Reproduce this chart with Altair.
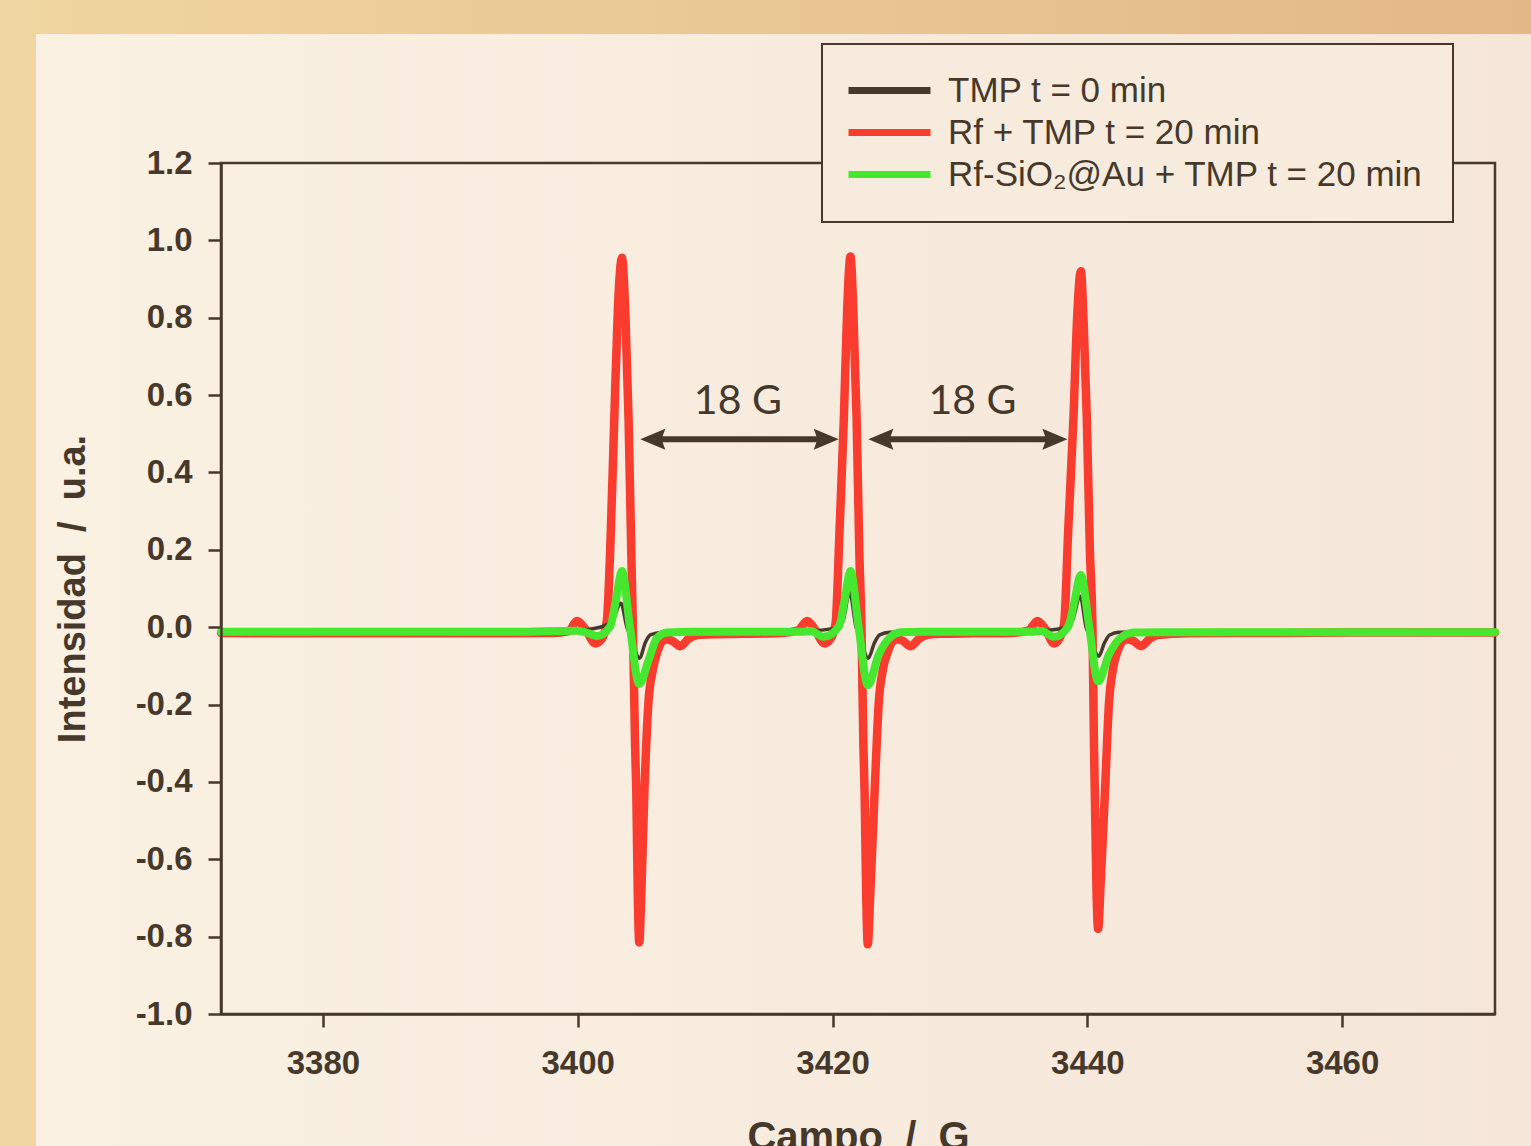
import altair as alt
import pandas as pd

# ---------------- data ----------------
S_BLACK = "TMP t = 0 min"
S_RED = "Rf + TMP t = 20 min"
S_GREEN = "Rf-SiO₂@Au + TMP t = 20 min"

red_x = [3372, 3380, 3390, 3398, 3399.3,
         3399.94, 3400.6, 3401.38, 3401.9, 3402.29, 3402.6, 3402.87, 3403.15, 3403.47, 3403.75, 3403.99, 3404.2,
         3404.34, 3404.5, 3404.6, 3404.72, 3404.83, 3404.98, 3405.23, 3405.56, 3405.9, 3406.22, 3406.88, 3407.4,
         3408.06, 3408.7, 3409.37,
         3410.5, 3413, 3416, 3417.3,
         3418.01, 3418.6, 3419.37, 3419.85, 3420.24, 3420.55, 3420.89, 3421.15, 3421.41, 3421.65, 3421.89, 3422.1,
         3422.28, 3422.42, 3422.52, 3422.65, 3422.77, 3422.95, 3423.30, 3423.64, 3423.95, 3424.30, 3424.95, 3425.5,
         3426.13, 3426.8, 3427.44,
         3428.5, 3431, 3434, 3435.4,
         3436.08, 3436.7, 3437.39, 3437.8, 3438.18, 3438.5, 3438.91, 3439.2, 3439.49, 3439.72, 3439.96, 3440.2,
         3440.41, 3440.52, 3440.59, 3440.72, 3440.85, 3441.05, 3441.38, 3441.71, 3442.0, 3442.32, 3443.03, 3443.6,
         3444.21, 3444.9, 3445.52,
         3448, 3455, 3462, 3472]
red_y = [-0.015, -0.016, -0.016, -0.015, -0.010,
         0.016, -0.005, -0.042, -0.030, 0.018, 0.25, 0.54, 0.82, 0.955, 0.80, 0.54, 0.20,
         -0.012, -0.30, -0.43, -0.70, -0.815, -0.70, -0.43, -0.19, -0.11, -0.067, -0.031, -0.035,
         -0.049, -0.030, -0.020,
         -0.018, -0.017, -0.015, -0.008,
         0.016, -0.005, -0.042, -0.030, 0.010, 0.25, 0.54, 0.82, 0.958, 0.80, 0.54, 0.20,
         -0.012, -0.30, -0.43, -0.70, -0.82, -0.70, -0.43, -0.19, -0.11, -0.067, -0.031, -0.035,
         -0.049, -0.030, -0.020,
         -0.017, -0.016, -0.015, -0.008,
         0.016, -0.005, -0.042, -0.030, 0.010, 0.25, 0.54, 0.80, 0.92, 0.78, 0.54, 0.20,
         -0.012, -0.30, -0.43, -0.68, -0.78, -0.66, -0.43, -0.19, -0.11, -0.067, -0.031, -0.035,
         -0.049, -0.030, -0.020,
         -0.016, -0.015, -0.014, -0.014]

black_x = [3372, 3385, 3395, 3399,
           3400.2, 3402.03, 3402.69, 3403.39, 3403.86, 3404.1, 3404.86, 3405.3, 3405.7, 3406.5, 3408,
           3412, 3416, 3418, 3420.1, 3420.8, 3421.35, 3421.85, 3422.1, 3422.8, 3423.3, 3423.7, 3424.5,
           3428, 3432, 3436, 3438.1, 3438.8, 3439.45, 3439.9, 3440.15, 3440.9, 3441.35, 3441.75, 3442.5,
           3450, 3460, 3472]
black_y = [-0.011, -0.012, -0.012, -0.011,
           -0.008, 0.003, 0.014, 0.062, 0.000, -0.020, -0.080, -0.040, -0.020, -0.014, -0.012,
           -0.012, -0.012, -0.010, -0.003, 0.015, 0.090, 0.000, -0.020, -0.080, -0.040, -0.020, -0.013,
           -0.012, -0.012, -0.010, -0.002, 0.015, 0.080, 0.000, -0.020, -0.075, -0.040, -0.020, -0.013,
           -0.012, -0.012, -0.012]

green_x = [3372, 3385, 3395, 3399.9,
           3400.8, 3401.5, 3402.55, 3403.0, 3403.47, 3404.1, 3404.83, 3405.56, 3406.22, 3407.0, 3409,
           3413, 3417.5, 3418.3, 3419.3, 3420.5, 3420.95, 3421.41, 3422.05, 3422.77, 3423.64, 3424.56, 3425.35, 3427,
           3431, 3435.5, 3436.4, 3437.39, 3438.5, 3438.98, 3439.49, 3440.15, 3440.85, 3441.71, 3442.63, 3443.68, 3446,
           3455, 3465, 3472]
green_y = [-0.012, -0.012, -0.012, -0.009,
           -0.015, -0.023, 0.002, 0.07, 0.145, 0.000, -0.147, -0.085, -0.028, -0.014, -0.012,
           -0.012, -0.012, -0.010, -0.025, 0.002, 0.07, 0.145, 0.000, -0.150, -0.070, -0.025, -0.013, -0.012,
           -0.012, -0.012, -0.010, -0.025, 0.002, 0.065, 0.135, 0.000, -0.140, -0.070, -0.027, -0.014, -0.013,
           -0.013, -0.013, -0.013]

# double-headed arrows (tips and shaft) and their labels
arrow_tip_left = [3404.91, 3422.81]
arrow_tip_right = [3420.49, 3438.44]
arrow_shaft_left = [3405.8, 3423.7]
arrow_shaft_right = [3419.6, 3437.55]
arrow_y = [0.486, 0.486]
label_x = [3412.57, 3430.98]
label_y = [0.551, 0.551]
label_text = ["18 G", "18 G"]

x_ticks = [3380, 3400, 3420, 3440, 3460]
y_ticks = [-1.0, -0.8, -0.6, -0.4, -0.2, 0.0, 0.2, 0.4, 0.6, 0.8, 1.0, 1.2]

# ---------------- tables ----------------
series_order = [S_BLACK, S_RED, S_GREEN]
series_colors = ["#463A2C", "#F93C2E", "#46E82F"]

df = pd.concat([
    pd.DataFrame({"field": red_x, "value": red_y, "series": S_RED}),
    pd.DataFrame({"field": black_x, "value": black_y, "series": S_BLACK}),
    pd.DataFrame({"field": green_x, "value": green_y, "series": S_GREEN}),
], ignore_index=True)

arrows = pd.DataFrame({"tl": arrow_tip_left, "tr": arrow_tip_right,
                       "sl": arrow_shaft_left, "sr": arrow_shaft_right, "y": arrow_y})
labels = pd.DataFrame({"x": label_x, "y": label_y, "t": label_text})
one = pd.DataFrame({"a": [0]})

W, H = 1274, 851
PL, PT, PR, PB = 221, 163, 36, 132
INK = "#46392B"
FONT = "Liberation Sans"
NB = "\u00a0"

xs = alt.Scale(domain=[3372, 3472], nice=False, zero=False)
ys = alt.Scale(domain=[-1.0, 1.2], nice=False, zero=False)

# ---------------- decoration ----------------
outer = alt.Chart(one).mark_rect(
    fill=alt.Gradient(gradient="linear",
                      stops=[alt.GradientStop(color="#F0D6A2", offset=0),
                             alt.GradientStop(color="#E2B886", offset=1)],
                      x1=0, x2=1, y1=0, y2=0)
).encode(x=alt.value(-PL), x2=alt.value(W + PR), y=alt.value(-PT), y2=alt.value(H + PB))

panel = alt.Chart(one).mark_rect(
    fill=alt.Gradient(gradient="linear",
                      stops=[alt.GradientStop(color="#FAF1E3", offset=0),
                             alt.GradientStop(color="#F5E6D9", offset=1)],
                      x1=0, x2=1, y1=0, y2=0)
).encode(x=alt.value(36 - PL), x2=alt.value(W + PR), y=alt.value(34 - PT), y2=alt.value(H + PB))

frame = alt.Chart(one).mark_rect(fillOpacity=0, stroke=INK, strokeWidth=2.5).encode(
    x=alt.value(0), x2=alt.value(W), y=alt.value(0), y2=alt.value(H))

# ---------------- lines ----------------
color = alt.Color(
    "series:N",
    scale=alt.Scale(domain=series_order, range=series_colors),
    legend=alt.Legend(
        orient="none", legendX=601, legendY=-119, title=None,
        fillColor="#F7EBDD", strokeColor=INK, padding=29,
        symbolType="M-4,0H4", symbolSize=420, symbolStrokeWidth=7,
        symbolOffset=21, labelOffset=41, rowPadding=6,
        labelFont=FONT, labelFontSize=35, labelColor=INK, labelLimit=1000,
        zindex=2,
    ),
)

x_axis = alt.Axis(values=x_ticks, format="d", title=f"Campo {NB}/{NB} G", grid=False,
                  domainColor=INK, domainWidth=2.5, tickColor=INK, tickWidth=2.5, tickSize=13,
                  labelFont=FONT, labelFontSize=33, labelFontWeight="bold", labelColor=INK, labelPadding=20,
                  titleFont=FONT, titleFontSize=40, titleFontWeight="bold", titleColor=INK, titlePadding=37,
                  zindex=1)
y_axis = alt.Axis(values=y_ticks, format=".1f", labelExpr="replace(datum.label, '\u2212', '-')",
                  title=f"Intensidad {NB}/{NB} u.a.", grid=False,
                  domainColor=INK, domainWidth=2.5, tickColor=INK, tickWidth=2.5, tickSize=13,
                  labelFont=FONT, labelFontSize=33, labelFontWeight="bold", labelColor=INK, labelPadding=16,
                  titleFont=FONT, titleFontSize=38, titleFontWeight="bold", titleColor=INK, titlePadding=43,
                  zindex=1)


def series_line(name, width):
    return alt.Chart(df).transform_filter(alt.datum.series == name).mark_line(
        strokeWidth=width, interpolate="monotone", strokeJoin="round", strokeCap="round"
    ).encode(
        x=alt.X("field:Q", scale=xs, axis=x_axis),
        y=alt.Y("value:Q", scale=ys, axis=y_axis),
        color=color,
        order=alt.Order("field:Q"),
    )


red_line = series_line(S_RED, 8.5)
black_line = series_line(S_BLACK, 3.5)
green_line = series_line(S_GREEN, 8)

# ---------------- arrows ----------------
shaft = alt.Chart(arrows).mark_rule(color=INK, strokeWidth=6).encode(
    x=alt.X("sl:Q", scale=xs), x2="sr:Q", y=alt.Y("y:Q", scale=ys))
head_l = alt.Chart(arrows).mark_point(
    shape="M0,0L2,-0.84L1.7,0L2,0.84Z", size=625, filled=True, fill=INK, opacity=1, strokeWidth=0
).encode(x=alt.X("tl:Q", scale=xs), y=alt.Y("y:Q", scale=ys))
head_r = alt.Chart(arrows).mark_point(
    shape="M0,0L-2,-0.84L-1.7,0L-2,0.84Z", size=625, filled=True, fill=INK, opacity=1, strokeWidth=0
).encode(x=alt.X("tr:Q", scale=xs), y=alt.Y("y:Q", scale=ys))
txt = alt.Chart(labels).mark_text(
    font="Lato", fontSize=41, color=INK, align="center", baseline="alphabetic"
).encode(x=alt.X("x:Q", scale=xs), y=alt.Y("y:Q", scale=ys), text="t:N")

chart = alt.layer(
    outer, panel, frame, red_line, black_line, green_line, shaft, head_l, head_r, txt
).properties(
    width=W, height=H,
    autosize=alt.AutoSizeParams(type="none"),
    padding={"left": PL, "top": PT, "right": PR, "bottom": PB},
    background="#F0D6A2",
).configure_view(stroke=None).configure_legend(strokeWidth=2)

chart.save("out.html", embed_options={"renderer": "svg", "actions": False})
